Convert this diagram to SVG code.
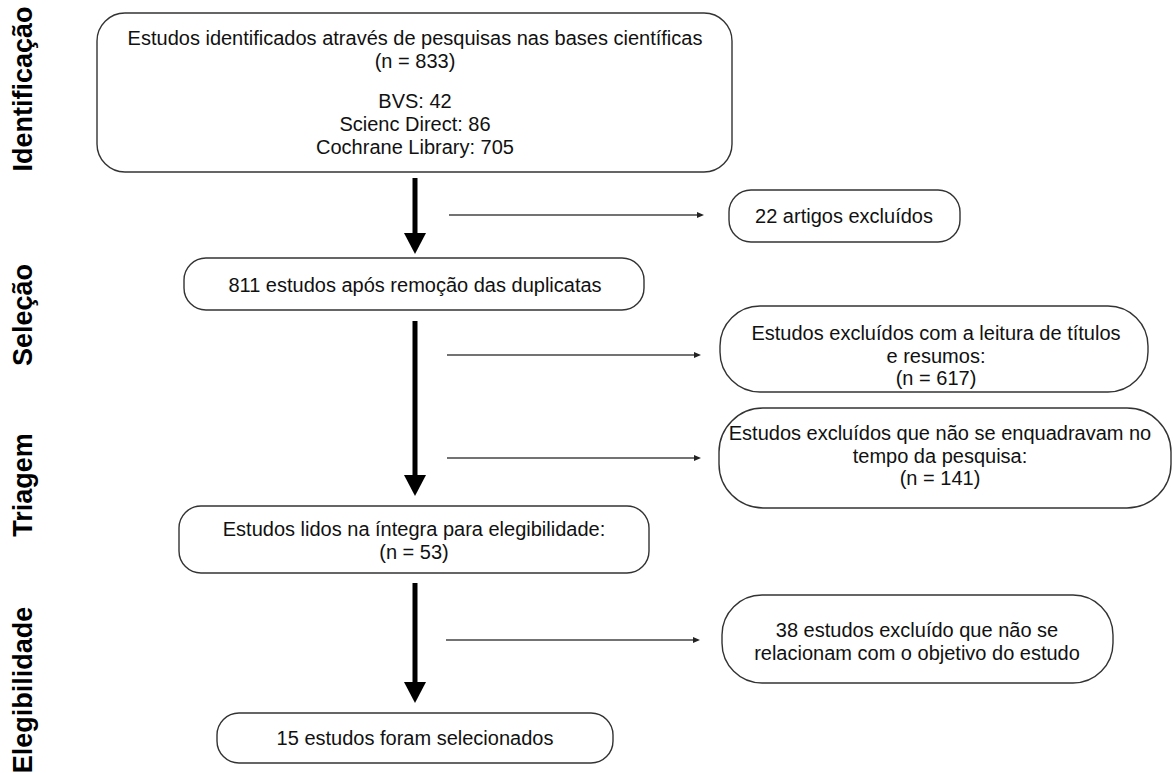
<svg xmlns="http://www.w3.org/2000/svg" width="1173" height="773" viewBox="0 0 1173 773">
<defs>
<style>
.box{fill:#ffffff;stroke:#333333;stroke-width:1.4}
.t{font-family:"Liberation Sans",Arial,sans-serif;font-size:20px;fill:#111111;text-anchor:middle}
.lab{font-family:"Liberation Sans",Arial,sans-serif;font-size:27px;font-weight:bold;fill:#000000;text-anchor:middle}
.thick{stroke:#000000;stroke-width:5;fill:none}
.thin{stroke:#444444;stroke-width:1.4;fill:none}
</style>
<marker id="bigHead" markerUnits="userSpaceOnUse" markerWidth="22" markerHeight="22" viewBox="0 0 21 22" refX="0" refY="11" orient="auto">
<path d="M0,0 L21,11 L0,22 z" fill="#000000"/>
</marker>
<marker id="smallHead" markerUnits="userSpaceOnUse" markerWidth="7" markerHeight="6" viewBox="0 0 7 6" refX="0" refY="3" orient="auto">
<path d="M0,0 L7,3 L0,6 z" fill="#222222"/>
</marker>
</defs>
<rect width="1173" height="773" fill="#ffffff"/>

<g id="labels">
<text class="lab" transform="translate(32,89) rotate(-90)">Identificação</text>
<text class="lab" transform="translate(32,315) rotate(-90)">Seleção</text>
<text class="lab" transform="translate(32,485) rotate(-90)">Triagem</text>
<text class="lab" transform="translate(32,690) rotate(-90)">Elegibilidade</text>
</g>

<g id="connectors">
<line class="thick" x1="415" y1="178" x2="415" y2="233" marker-end="url(#bigHead)"/>
<line class="thick" x1="415" y1="321" x2="415" y2="475" marker-end="url(#bigHead)"/>
<line class="thick" x1="415" y1="583" x2="415" y2="682" marker-end="url(#bigHead)"/>
<line class="thin" x1="449" y1="215" x2="697" y2="215" marker-end="url(#smallHead)"/>
<line class="thin" x1="447" y1="355" x2="694" y2="355" marker-end="url(#smallHead)"/>
<line class="thin" x1="447" y1="458" x2="694" y2="458" marker-end="url(#smallHead)"/>
<line class="thin" x1="446" y1="640" x2="693" y2="640" marker-end="url(#smallHead)"/>
</g>

<g id="n1">
<rect class="box" x="97" y="13" width="635" height="159" rx="28"/>
<text class="t" x="415" y="45">Estudos identificados através de pesquisas nas bases científicas</text>
<text class="t" x="415" y="68">(n = 833)</text>
<text class="t" x="415" y="108">BVS: 42</text>
<text class="t" x="415" y="131">Scienc Direct: 86</text>
<text class="t" x="415" y="154">Cochrane Library: 705</text>
</g>

<g id="n2">
<rect class="box" x="729" y="190" width="231" height="52" rx="22"/>
<text class="t" x="844" y="223">22 artigos excluídos</text>
</g>

<g id="n3">
<rect class="box" x="184" y="258" width="460" height="52" rx="22"/>
<text class="t" x="415" y="292">811 estudos após remoção das duplicatas</text>
</g>

<g id="n4">
<rect class="box" x="720" y="306" width="428" height="86" rx="40"/>
<text class="t" x="936" y="340">Estudos excluídos com a leitura de títulos</text>
<text class="t" x="936" y="363">e resumos:</text>
<text class="t" x="936" y="385">(n = 617)</text>
</g>

<g id="n5">
<rect class="box" x="719" y="408" width="452" height="100" rx="44"/>
<text class="t" x="940" y="440">Estudos excluídos que não se enquadravam no</text>
<text class="t" x="940" y="463">tempo da pesquisa:</text>
<text class="t" x="940" y="485">(n = 141)</text>
</g>

<g id="n6">
<rect class="box" x="179" y="506" width="470" height="67" rx="22"/>
<text class="t" x="414" y="536">Estudos lidos na íntegra para elegibilidade:</text>
<text class="t" x="414" y="559">(n = 53)</text>
</g>

<g id="n7">
<rect class="box" x="722" y="595" width="391" height="88" rx="40"/>
<text class="t" x="917" y="637">38 estudos excluído que não se</text>
<text class="t" x="917" y="660">relacionam com o objetivo do estudo</text>
</g>

<g id="n8">
<rect class="box" x="217" y="713" width="396" height="50" rx="22"/>
<text class="t" x="415" y="745">15 estudos foram selecionados</text>
</g>
</svg>
